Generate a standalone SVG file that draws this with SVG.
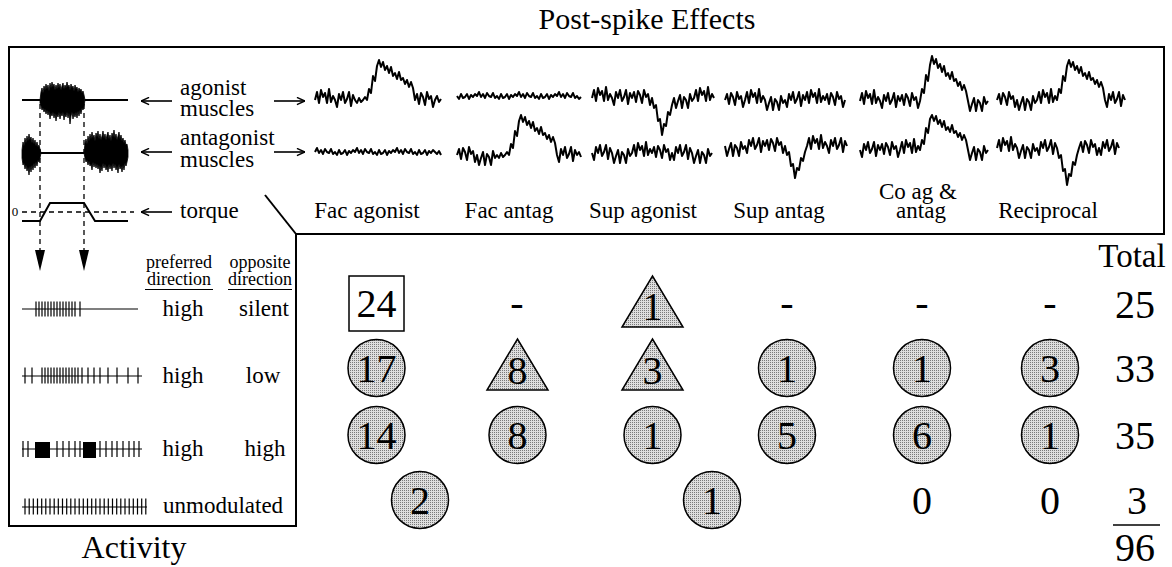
<svg xmlns="http://www.w3.org/2000/svg" width="1172" height="567" viewBox="0 0 1172 567" font-family="Liberation Serif, Tinos, Times New Roman, DejaVu Serif, serif">
  <defs>
    <!-- fine dot screen used inside the count symbols -->
    <pattern id="stipple" width="2" height="2" patternUnits="userSpaceOnUse">
      <rect width="2" height="2" fill="#dedede"/>
      <rect width="1" height="1" fill="#7a7a7a"/>
    </pattern>
    <marker id="openHead" viewBox="0 0 10 10" refX="10" refY="5" markerWidth="9" markerHeight="9" markerUnits="userSpaceOnUse" orient="auto">
      <path d="M1,1 L10,5 L1,9" fill="none" stroke="#000" stroke-width="1.6"/>
    </marker>
  </defs>
  <style>
    text { font-family: Liberation Serif, Tinos, Times New Roman, DejaVu Serif, serif; fill: #000; }
    .lab { font-size: 23px; }
    .mid { text-anchor: middle; }
    .hdr { font-size: 18px; text-anchor: middle; }
    .num { font-size: 40px; text-anchor: middle; }
    .frame { fill: none; stroke: #000; stroke-width: 2; }
    .trace { fill: none; stroke: #000; stroke-width: 2; stroke-linejoin: round; }
    .base { fill: none; stroke: #000; stroke-width: 2; }
    .dash { fill: none; stroke: #000; stroke-width: 1.3; stroke-dasharray: 5 4; }
    .arrow { fill: none; stroke: #000; stroke-width: 1.6; marker-end: url(#openHead); }
    .burst { fill: #000; stroke: #000; stroke-width: 0.8; }
    .tick { fill: none; stroke: #000; stroke-width: 1.2; }
    .cell { fill: url(#stipple); stroke: #000; stroke-width: 1.5; }
    .box { fill: #fff; stroke: #000; stroke-width: 1.5; }
  </style>

  <!-- titles -->
  <text x="647" y="29" font-size="30" class="mid">Post-spike Effects</text>
  <text x="134" y="558" font-size="32" class="mid">Activity</text>

  <!-- outer frame: effects panel on top, activity panel on the left -->
  <g id="frame">
    <path class="frame" d="M9,47 H1164 V234 H296 V526 H9 Z"/>
    <path class="frame" d="M265,195 L296,234"/>
  </g>

  <!-- schematic of EMG bursts and torque -->
  <g id="schematic">
    <path class="base" d="M22,100 H40 M85,100 H128"/>
    <path class="base" d="M41,153 H84"/>
    <polygon class="burst" points="40,100 41,92 42,88 43,93 44,86 45,90 46,84 47,89 48,85 49,91 50,83 51,88 52,82 53,87 54,84 55,90 56,85 57,89 58,83 59,88 60,84 61,90 62,86 63,83 64,89 65,85 66,88 67,82 68,87 69,85 70,90 71,84 72,88 73,86 74,91 75,85 76,89 77,87 78,92 79,88 80,91 81,89 82,93 83,91 84,95 85,100 84,106 83,110 82,108 81,114 80,110 79,116 78,111 77,118 76,112 75,117 74,113 73,119 72,112 71,116 70,124 69,113 68,118 67,112 66,117 65,114 64,120 63,112 62,116 61,113 60,119 59,112 58,117 57,114 56,121 55,113 54,118 53,112 52,116 51,113 50,119 49,111 48,115 47,110 46,114 45,109 44,112 43,108 42,110 41,106 40,103"/>
    <polygon class="burst" points="22,150 23,142 24,146 25,138 26,143 27,136 28,141 29,134 30,140 31,137 32,143 33,138 34,144 35,140 36,146 37,142 38,147 39,145 40,149 41,153 40,158 39,162 38,160 37,166 36,162 35,168 34,163 33,170 32,165 31,172 30,166 29,175 28,167 27,171 26,165 25,169 24,163 23,165 22,158"/>
    <polygon class="burst" points="84,153 85,143 86,139 87,144 88,136 89,141 90,134 91,139 92,132 93,138 94,135 95,141 96,133 97,137 98,131 99,139 100,134 101,140 102,136 103,131 104,138 105,134 106,140 107,135 108,132 109,139 110,135 111,141 112,133 113,137 114,130 115,138 116,134 117,140 118,136 119,132 120,139 121,135 122,141 123,138 124,143 125,140 126,145 127,144 128,150 128,157 127,162 126,166 125,163 124,170 123,165 122,172 121,166 120,169 119,164 118,173 117,166 116,170 115,164 114,168 113,163 112,171 111,165 110,169 109,164 108,172 107,166 106,170 105,164 104,168 103,163 102,171 101,166 100,173 99,165 98,169 97,164 96,168 95,163 94,167 93,162 92,170 91,164 90,166 89,161 88,165 87,160 86,162 85,158"/>
    <path class="dash" d="M22,212 H134"/>
    <text x="15" y="216" font-size="13" class="mid">0</text>
    <path class="base" d="M22,221 H40 L50,203 H84 L95,221 H128" stroke-width="1.6"/>
    <text x="180" y="95" class="lab">agonist</text>
    <text x="180" y="116" class="lab">muscles</text>
    <text x="180" y="145" class="lab">antagonist</text>
    <text x="180" y="167" class="lab">muscles</text>
    <text x="180" y="218" class="lab">torque</text>
  </g>

  <!-- arrows and projection lines -->
  <g id="connectors">
    <path class="arrow" d="M172,101 H141"/>
    <path class="arrow" d="M172,152 H141"/>
    <path class="arrow" d="M172,212 H141"/>
    <path class="arrow" d="M274,101 H305"/>
    <path class="arrow" d="M274,152 H305"/>
    <path class="dash" d="M40,104 V250 M84,104 V250"/>
    <polygon points="35,250 45,250 40,271" fill="#000"/>
    <polygon points="79,250 89,250 84,271" fill="#000"/>
  </g>

  <!-- averaged EMG traces, agonist (upper) and antagonist (lower) -->
  <g id="col-fac-agonist">
    <path class="trace" d="M315,100 l2,-8 2,11 2,-13 2,7 2,-4 2,10 2,-14 2,13 2,-6 2,4 2,7 2,-13 2,6 2,-8 2,11 2,-4 2,-7 2,14 2,-11 2,5 2,3 2,-5 2,4 2,-2 2,-3 2,3 2,-11 2,4 2,-17 2,5 2,-15 2,-6 2,7 2,-5 2,8 2,-4 2,7 2,-6 2,9 2,-3 2,6 2,-7 2,8 2,-2 2,6 2,-4 2,7 2,-5 2,6 2,12 2,-6 2,10 2,-11 2,4 2,8 2,-13 2,7 2,-3 2,11 2,-7 2,-4 2,6 2,-3"/>
    <path class="trace" d="M315,152 l2,-4 2,5 2,-3 2,4 2,-5 2,3 2,1 2,-4 2,5 2,-2 2,3 2,-5 2,4 2,-1 2,-3 2,5 2,-4 2,2 2,-3 2,2 2,-4 2,5 2,-3 2,4 2,-5 2,3 2,1 2,-4 2,5 2,-2 2,3 2,-5 2,4 2,-1 2,-3 2,5 2,-4 2,2 2,-3 2,2 2,-4 2,5 2,-3 2,4 2,-5 2,3 2,1 2,-4 2,5 2,-2 2,3 2,-5 2,4 2,-1 2,-3 2,5 2,-4 2,2 2,-3 2,2 2,2 2,-3 2,4"/>
    <text x="367" y="218" class="lab mid">Fac agonist</text>
  </g>
  <g id="col-fac-antag">
    <path class="trace" d="M457,96 l2,3 2,-5 2,4 2,-1 2,-3 2,5 2,-4 2,2 2,-3 2,2 2,-4 2,5 2,-3 2,4 2,-5 2,3 2,1 2,-4 2,5 2,-2 2,3 2,-5 2,4 2,-1 2,-3 2,5 2,-4 2,2 2,-3 2,2 2,-4 2,5 2,-3 2,4 2,-5 2,3 2,1 2,-4 2,5 2,-2 2,3 2,-5 2,4 2,-1 2,-3 2,5 2,-4 2,2 2,-3 2,2 2,-4 2,5 2,-3 2,4 2,-5 2,3 2,1 2,-4 2,5 2,-2 2,3 2,-2"/>
    <path class="trace" d="M457,155 l2,-6 2,10 2,-11 2,4 2,8 2,-13 2,7 2,-3 2,11 2,-7 2,10 2,-7 2,-6 2,13 2,-11 2,3 2,8 2,-14 2,7 2,-3 2,3 2,-5 2,4 2,-2 2,-3 2,3 2,-11 2,4 2,-17 2,5 2,-15 2,-6 2,7 2,-5 2,8 2,-4 2,7 2,-6 2,9 2,-3 2,6 2,-7 2,8 2,-2 2,6 2,-4 2,7 2,-5 2,6 2,12 2,7 2,-13 2,6 2,-8 2,11 2,-4 2,-7 2,14 2,-11 2,5 2,-3 2,5"/>
    <text x="509" y="218" class="lab mid">Fac antag</text>
  </g>
  <g id="col-sup-agonist">
    <path class="trace" d="M592,98 l2,-8 2,11 2,-13 2,7 2,-4 2,10 2,-14 2,13 2,-6 2,4 2,7 2,-13 2,6 2,-8 2,11 2,-4 2,-7 2,14 2,-11 2,5 2,-6 2,10 2,-11 2,4 2,8 2,-13 2,7 2,-3 2,11 2,-7 2,10 2,-3 2,16 2,-2 2,16 2,-11 2,2 2,-14 2,3 2,-10 2,-7 2,10 2,-7 2,-6 2,13 2,-11 2,3 2,8 2,-14 2,7 2,-3 2,-8 2,11 2,-13 2,7 2,-4 2,10 2,-14 2,13 2,-6 2,4"/>
    <path class="trace" d="M592,153 l2,7 2,-13 2,6 2,-8 2,11 2,-4 2,-7 2,14 2,-11 2,5 2,10 2,-7 2,-6 2,13 2,-11 2,3 2,8 2,-14 2,7 2,-3 2,-8 2,11 2,-13 2,7 2,-4 2,10 2,-14 2,13 2,-6 2,4 2,-6 2,10 2,-11 2,4 2,8 2,-13 2,7 2,-3 2,11 2,-7 2,7 2,-13 2,6 2,-8 2,11 2,-4 2,-7 2,14 2,-11 2,5 2,10 2,-7 2,-6 2,13 2,-11 2,3 2,8 2,-14 2,7 2,-3"/>
    <text x="643" y="218" class="lab mid">Sup agonist</text>
  </g>
  <g id="col-sup-antag">
    <path class="trace" d="M725,100 l2,-6 2,10 2,-11 2,4 2,8 2,-13 2,7 2,-3 2,11 2,-7 2,-8 2,11 2,-13 2,7 2,-4 2,10 2,-14 2,13 2,-6 2,4 2,10 2,-7 2,-6 2,13 2,-11 2,3 2,8 2,-14 2,7 2,-3 2,7 2,-13 2,6 2,-8 2,11 2,-4 2,-7 2,14 2,-11 2,5 2,-8 2,11 2,-13 2,7 2,-4 2,10 2,-14 2,13 2,-6 2,4 2,-6 2,10 2,-11 2,4 2,8 2,-13 2,7 2,-3 2,11 2,-7"/>
    <path class="trace" d="M725,146 l2,10 2,-7 2,-6 2,13 2,-11 2,3 2,8 2,-14 2,7 2,-3 2,7 2,-13 2,6 2,-8 2,11 2,-4 2,-7 2,14 2,-11 2,5 2,-6 2,10 2,-11 2,4 2,8 2,-13 2,7 2,-3 2,11 2,-7 2,9 2,-3 2,14 2,-2 2,14 2,-10 2,2 2,-12 2,3 2,-9 2,-6 2,-8 2,11 2,-13 2,7 2,-4 2,10 2,-14 2,13 2,-6 2,4 2,7 2,-13 2,6 2,-8 2,11 2,-4 2,-7 2,14 2,-11 2,5"/>
    <text x="779" y="218" class="lab mid">Sup antag</text>
  </g>
  <g id="col-co">
    <path class="trace" d="M860,101 l2,-8 2,11 2,-13 2,7 2,-4 2,10 2,-14 2,13 2,-6 2,4 2,7 2,-13 2,6 2,-8 2,11 2,-4 2,-7 2,14 2,-11 2,5 2,-6 2,10 2,-11 2,4 2,8 2,-13 2,7 2,-3 2,11 2,-7 2,-12 2,4 2,-18 2,6 2,-16 2,-9 2,8 2,-5 2,9 2,-4 2,8 2,-6 2,10 2,-3 2,6 2,-7 2,9 2,-2 2,7 2,-4 2,8 2,-5 2,6 2,10 2,10 2,-7 2,-6 2,13 2,-11 2,3 2,8 2,-14 2,7 2,-3"/>
    <path class="trace" d="M860,150 l2,7 2,-13 2,6 2,-8 2,11 2,-4 2,-7 2,14 2,-11 2,5 2,-6 2,10 2,-11 2,4 2,8 2,-13 2,7 2,-3 2,11 2,-7 2,-8 2,11 2,-13 2,7 2,-4 2,10 2,-14 2,13 2,-6 2,4 2,-10 2,4 2,-16 2,5 2,-14 2,-4 2,6 2,-5 2,8 2,-4 2,7 2,-6 2,9 2,-3 2,5 2,-7 2,8 2,-2 2,6 2,-4 2,7 2,-5 2,5 2,10 2,10 2,-7 2,-6 2,13 2,-11 2,3 2,8 2,-14 2,7 2,-3"/>
    <text x="918" y="199" class="lab mid">Co ag &amp;</text>
    <text x="921" y="218" class="lab mid">antag</text>
  </g>
  <g id="col-reciprocal">
    <path class="trace" d="M997,100 l2,-6 2,10 2,-11 2,4 2,8 2,-13 2,7 2,-3 2,11 2,-7 2,10 2,-7 2,-6 2,13 2,-11 2,3 2,8 2,-14 2,7 2,-3 2,-8 2,11 2,-13 2,7 2,-4 2,10 2,-14 2,13 2,-6 2,4 2,-11 2,4 2,-17 2,5 2,-15 2,-6 2,7 2,-5 2,8 2,-4 2,7 2,-6 2,9 2,-3 2,6 2,-7 2,8 2,-2 2,6 2,-4 2,7 2,-5 2,6 2,12 2,7 2,-13 2,6 2,-8 2,11 2,-4 2,-7 2,14 2,-11 2,5"/>
    <path class="trace" d="M997,148 l2,-8 2,11 2,-13 2,7 2,-4 2,10 2,-14 2,13 2,-6 2,4 2,10 2,-7 2,-6 2,13 2,-11 2,3 2,8 2,-14 2,7 2,-3 2,7 2,-13 2,6 2,-8 2,11 2,-4 2,-7 2,14 2,-11 2,5 2,10 2,-3 2,16 2,-2 2,16 2,-11 2,2 2,-14 2,3 2,-10 2,-7 2,-6 2,10 2,-11 2,4 2,8 2,-13 2,7 2,-3 2,11 2,-7 2,7 2,-13 2,6 2,-8 2,11 2,-4 2,-7 2,14 2,-11 2,5"/>
    <text x="1048" y="218" class="lab mid">Reciprocal</text>
  </g>

  <!-- activity classes -->
  <g id="activity-header">
    <text x="179" y="268" class="hdr">preferred</text>
    <text x="179" y="285" class="hdr">direction</text>
    <text x="260" y="268" class="hdr">opposite</text>
    <text x="260" y="285" class="hdr">direction</text>
    <path d="M145,289.5 H213 M228,289.5 H292" stroke="#000" stroke-width="1.2"/>
  </g>
  <g id="activity-silent">
    <path class="tick" d="M22,309 H138 M36,301.5 v15 M39,301.5 v15 M42,301.5 v15 M45,301.5 v15 M48,301.5 v15 M51,301.5 v15 M54,301.5 v15 M57,301.5 v15 M60,301.5 v15 M63,301.5 v15 M66,301.5 v15 M69,301.5 v15 M72,301.5 v15 M75,301.5 v15 M80,301.5 v15"/>
    <text x="183" y="316" class="lab mid">high</text>
    <text x="264" y="316" class="lab mid">silent</text>
  </g>
  <g id="activity-low">
    <path class="tick" d="M22,376 H142 M25,367.5 v16 M32,367.5 v16 M42,367.5 v16 M45,367.5 v16 M48,367.5 v16 M51,367.5 v16 M54,367.5 v16 M57,367.5 v16 M60,367.5 v16 M63,367.5 v16 M66,367.5 v16 M69,367.5 v16 M72,367.5 v16 M75,367.5 v16 M78,367.5 v16 M82,367.5 v16 M88,367.5 v16 M94,367.5 v16 M100,367.5 v16 M108,367.5 v16 M117,367.5 v16 M128,367.5 v16 M138,367.5 v16"/>
    <text x="183" y="383" class="lab mid">high</text>
    <text x="263" y="383" class="lab mid">low</text>
  </g>
  <g id="activity-high">
    <path class="tick" d="M22,449 H142 M23,441 v16 M28,441 v16 M57,441 v16 M63,441 v16 M69,441 v16 M75,441 v16 M80,441 v16 M100,441 v16 M106,441 v16 M112,441 v16 M117,441 v16 M123,441 v16 M129,441 v16 M134,441 v16 M139,441 v16"/>
    <rect x="35" y="442" width="15" height="16" fill="#000"/>
    <rect x="83" y="442" width="13" height="16" fill="#000"/>
    <text x="183" y="456" class="lab mid">high</text>
    <text x="265" y="456" class="lab mid">high</text>
  </g>
  <g id="activity-unmodulated">
    <path class="tick" d="M22,507 H147 M25,498.5 v16 M29.2,498.5 v16 M33.3,498.5 v16 M37.5,498.5 v16 M41.7,498.5 v16 M45.8,498.5 v16 M50,498.5 v16 M54.2,498.5 v16 M58.3,498.5 v16 M62.5,498.5 v16 M66.7,498.5 v16 M70.8,498.5 v16 M75,498.5 v16 M79.2,498.5 v16 M83.3,498.5 v16 M87.5,498.5 v16 M91.7,498.5 v16 M95.8,498.5 v16 M100,498.5 v16 M104.2,498.5 v16 M108.3,498.5 v16 M112.5,498.5 v16 M116.7,498.5 v16 M120.8,498.5 v16 M125,498.5 v16 M129.2,498.5 v16 M133.3,498.5 v16 M137.5,498.5 v16 M141.7,498.5 v16 M145.8,498.5 v16"/>
    <text x="163" y="513" class="lab">unmodulated</text>
  </g>

  <!-- counts: row 1 (high / silent) -->
  <g id="r1c1"><rect class="box" x="349" y="276" width="55" height="55"/><text x="376.5" y="317" class="num">24</text></g>
  <g id="r1c2"><text x="517" y="316" class="num">-</text></g>
  <g id="r1c3"><polygon class="cell" points="622,327 683,327 652.5,276"/><text x="652.5" y="320" class="num">1</text></g>
  <g id="r1c4"><text x="787" y="316" class="num">-</text></g>
  <g id="r1c5"><text x="922" y="316" class="num">-</text></g>
  <g id="r1c6"><text x="1050" y="316" class="num">-</text></g>

  <!-- row 2 (high / low) -->
  <g id="r2c1"><circle class="cell" cx="376.5" cy="368" r="28.5"/><text x="376.5" y="382" class="num">17</text></g>
  <g id="r2c2"><polygon class="cell" points="487,390 548,390 517.5,339"/><text x="517.5" y="384" class="num">8</text></g>
  <g id="r2c3"><polygon class="cell" points="622,390 683,390 652.5,339"/><text x="652.5" y="384" class="num">3</text></g>
  <g id="r2c4"><circle class="cell" cx="787" cy="368" r="28.5"/><text x="787" y="382" class="num">1</text></g>
  <g id="r2c5"><circle class="cell" cx="922" cy="368" r="28.5"/><text x="922" y="382" class="num">1</text></g>
  <g id="r2c6"><circle class="cell" cx="1050" cy="368" r="28.5"/><text x="1050" y="382" class="num">3</text></g>

  <!-- row 3 (high / high) -->
  <g id="r3c1"><circle class="cell" cx="376.5" cy="435" r="28.5"/><text x="376.5" y="449" class="num">14</text></g>
  <g id="r3c2"><circle class="cell" cx="517.5" cy="435" r="28.5"/><text x="517.5" y="449" class="num">8</text></g>
  <g id="r3c3"><circle class="cell" cx="652.5" cy="435" r="28.5"/><text x="652.5" y="449" class="num">1</text></g>
  <g id="r3c4"><circle class="cell" cx="787" cy="435" r="28.5"/><text x="787" y="449" class="num">5</text></g>
  <g id="r3c5"><circle class="cell" cx="922" cy="435" r="28.5"/><text x="922" y="449" class="num">6</text></g>
  <g id="r3c6"><circle class="cell" cx="1050" cy="435" r="28.5"/><text x="1050" y="449" class="num">1</text></g>

  <!-- row 4 (unmodulated) -->
  <g id="r4a"><circle class="cell" cx="420" cy="500" r="28.5"/><text x="420" y="514" class="num">2</text></g>
  <g id="r4b"><circle class="cell" cx="712" cy="500" r="28.5"/><text x="712" y="514" class="num">1</text></g>
  <g id="r4c5"><text x="922" y="514" class="num">0</text></g>
  <g id="r4c6"><text x="1050" y="514" class="num">0</text></g>

  <!-- totals -->
  <g id="totals">
    <text x="1132" y="267" font-size="33" class="mid">Total</text>
    <text x="1135" y="318" class="num">25</text>
    <text x="1135" y="382" class="num">33</text>
    <text x="1135" y="449" class="num">35</text>
    <text x="1137" y="514" class="num">3</text>
    <path d="M1113,525 H1160" stroke="#000" stroke-width="1.6"/>
    <text x="1135" y="561" class="num">96</text>
  </g>
</svg>
